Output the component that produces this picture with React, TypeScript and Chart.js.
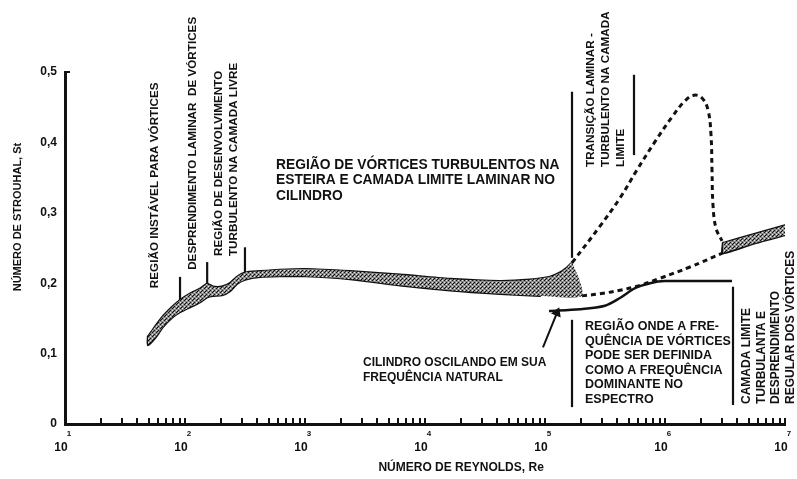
import React, { useEffect, useRef } from 'react';
import { Chart, registerables } from 'chart.js';

Chart.register(...registerables);

const FONT = "'Liberation Sans', Arial, Helvetica, sans-serif";

// ---------------- data ----------------
// main measured band (laminar vortex shedding ... subcritical)
const bandUpperRe = [49.2, 56.2, 65.6, 77.9, 90.9, 110, 133, 153, 171, 203, 237, 271, 316, 422, 619, 1000, 2371, 6190, 16160, 42170, 75000, 110100, 133400, 152500, 167900];
const bandUpperSt = [0.124, 0.138, 0.153, 0.166, 0.176, 0.185, 0.192, 0.199, 0.195, 0.195, 0.2, 0.209, 0.215, 0.217, 0.219, 0.22, 0.217, 0.212, 0.206, 0.203, 0.205, 0.209, 0.215, 0.222, 0.229];
const bandLowerRe = [49.2, 56.2, 65.6, 77.9, 90.9, 110, 133, 153, 171, 203, 237, 271, 316, 422, 619, 1000, 2371, 6190, 16160, 42170, 90850, 203400];
const bandLowerSt = [0.112, 0.122, 0.138, 0.151, 0.159, 0.166, 0.173, 0.18, 0.182, 0.183, 0.189, 0.199, 0.205, 0.209, 0.21, 0.21, 0.206, 0.197, 0.19, 0.185, 0.182, 0.182];

// supercritical band (turbulent boundary layer)
const turbUpperRe = [3.045e6, 5.62e6, 1.0e7];
const turbUpperSt = [0.257, 0.27, 0.282];
const turbLowerRe = [3.045e6, 5.62e6, 1.0e7];
const turbLowerSt = [0.243, 0.257, 0.2685];

// dashed transition curves
const upperDashRe = [167900, 287300, 421700, 584700, 825400, 1144000, 1468000, 1744000, 2034000, 2282000, 2417000, 2464000, 2512000, 2661000, 2985000];
const upperDashSt = [0.229, 0.281, 0.321, 0.361, 0.401, 0.436, 0.459, 0.467, 0.463, 0.446, 0.411, 0.361, 0.311, 0.278, 0.26];
const lowerDashRe = [203400, 287300, 421700, 619000, 908500, 1616000, 3045000];
const lowerDashSt = [0.182, 0.185, 0.19, 0.197, 0.207, 0.223, 0.243];

// oscillating cylinder (natural frequency)
const oscRe = [108000, 195700, 316200, 421700, 562300, 749900, 1000000, 3616000];
const oscSt = [0.1605, 0.163, 0.168, 0.179, 0.193, 0.2, 0.203, 0.203];

// arrow from the note to the oscillating-cylinder line
const arrowRe = [96200, 125900];
const arrowSt = [0.109, 0.158];

// vertical region markers
const markerRe = [90.9, 153, 316, 167900, 551600, 167900, 3687000];
const markerStFrom = [0.173, 0.195, 0.216, 0.236, 0.382, 0.024, 0.027];
const markerStTo = [0.209, 0.23, 0.251, 0.472, 0.496, 0.148, 0.195];

// axes
const xDecades = [10, 100, 1000, 1e4, 1e5, 1e6, 1e7];
const xExponents = ['1', '2', '3', '4', '5', '6', '7'];
const yTicks = [0, 0.1, 0.2, 0.3, 0.4, 0.5];
const yTickLabels = ['0', '0,1', '0,2', '0,3', '0,4', '0,5'];
const xTitle = 'NÚMERO DE REYNOLDS, Re';
const yTitle = 'NÚMERO DE STROUHAL, St';

// text notes (anchored in data coordinates)
const notes = [
  { lines: ['REGIÃO INSTÁVEL PARA VÓRTICES'], re: 56.2, st: 0.193, vertical: true, size: 11.7, weight: 'bold', lh: 15 },
  { lines: ['DESPRENDIMENTO LAMINAR  DE VÓRTICES'], re: 116.6, st: 0.219, vertical: true, size: 11.7, weight: 'bold', lh: 15 },
  { lines: ['REGIÃO DE DESENVOLVIMENTO', 'TURBULENTO NA CAMADA LIVRE'], re: 192, st: 0.2386, vertical: true, size: 11.7, weight: 'bold', lh: 15 },
  { lines: ['REGIÃO DE VÓRTICES TURBULENTOS NA', 'ESTEIRA E CAMADA LIMITE LAMINAR NO', 'CILINDRO'], re: 573, st: 0.3679, vertical: false, size: 13.8, weight: 'bold', lh: 15.5 },
  { lines: ['TRANSIÇÃO LAMINAR -', 'TURBULENTO NA CAMADA', 'LIMITE'], re: 241700, st: 0.3651, vertical: true, size: 11.7, weight: 'bold', lh: 15 },
  { lines: ['REGIÃO ONDE A FRE-', 'QUÊNCIA DE VÓRTICES', 'PODE SER DEFINIDA', 'COMO A FREQUÊNCIA', 'DOMINANTE NO', 'ESPECTRO'], re: 215400, st: 0.1378, vertical: false, size: 12.5, weight: 'bold', lh: 14.5 },
  { lines: ['CILINDRO OSCILANDO EM SUA', 'FREQUÊNCIA NATURAL'], re: 3044, st: 0.0866, vertical: false, size: 12, weight: 'bold', lh: 14.5 },
  { lines: ['CAMADA LIMITE', 'TURBULANTA E', 'DESPRENDIMENTO', 'REGULAR DOS VÓRTICES'], re: 4.824e6, st: 0.0284, vertical: true, size: 12, weight: 'bold', lh: 14.5 },
];

const pts = (xs: number[], ys: number[]) => xs.map((x, i) => ({ x, y: ys[i] }));

function bandPolygon(ur: number[], us: number[], lr: number[], ls: number[]) {
  const up = pts(ur, us);
  const lo = pts(lr, ls).reverse();
  return [...up, ...lo];
}

function makePattern(): CanvasPattern | string {
  const c = document.createElement('canvas');
  c.width = 4;
  c.height = 4;
  const g = c.getContext('2d');
  if (!g) return '#777';
  g.fillStyle = '#8a8a8a';
  g.fillRect(0, 0, 4, 4);
  g.fillStyle = '#111';
  g.fillRect(0, 0, 1, 1);
  g.fillRect(2, 2, 1, 1);
  g.fillRect(1, 3, 1, 1);
  g.fillStyle = '#e6e6e6';
  g.fillRect(2, 0, 1, 1);
  g.fillRect(0, 2, 1, 1);
  return g.createPattern(c, 'repeat') || '#777';
}

const notesPlugin = {
  id: 'notesPlugin',
  afterDraw(chart: any) {
    const { ctx, scales } = chart;
    const xs = scales.x;
    const ys = scales.y;
    ctx.save();
    ctx.fillStyle = '#111';
    ctx.textBaseline = 'middle';
    ctx.textAlign = 'left';
    for (const n of notes) {
      const px = xs.getPixelForValue(n.re);
      const py = ys.getPixelForValue(n.st);
      ctx.font = `${n.weight} ${n.size}px ${FONT}`;
      ctx.save();
      ctx.translate(px, py);
      if (n.vertical) ctx.rotate(-Math.PI / 2);
      n.lines.forEach((line, i) => ctx.fillText(line, 0, i * n.lh));
      ctx.restore();
    }
    // exponents of decade labels
    ctx.font = `bold 8px ${FONT}`;
    ctx.textAlign = 'center';
    xDecades.forEach((d, i) => {
      const px = xs.getPixelForValue(d);
      ctx.fillText(xExponents[i], px + 4, ys.bottom + 10);
    });
    // small inward tick at the top of the y axis
    ctx.strokeStyle = '#111';
    ctx.lineWidth = 2;
    ctx.beginPath();
    ctx.moveTo(xs.left, ys.getPixelForValue(yTicks[yTicks.length - 1]));
    ctx.lineTo(xs.left + 5, ys.getPixelForValue(yTicks[yTicks.length - 1]));
    ctx.stroke();
    // axis titles
    ctx.font = `bold 12px ${FONT}`;
    ctx.textAlign = 'center';
    ctx.fillText(xTitle, xs.getPixelForValue(20000), 468);
    ctx.font = `bold 11px ${FONT}`;
    ctx.save();
    ctx.translate(18, ys.getPixelForValue(0.294));
    ctx.rotate(-Math.PI / 2);
    ctx.fillText(yTitle, 0, 0);
    ctx.restore();
    ctx.restore();
  },
};

const edge = (data: { x: number; y: number }[], width: number) => ({
  type: 'line' as const,
  data,
  borderColor: '#111',
  borderWidth: width,
  fill: false,
  tension: 0.25,
  pointRadius: 0,
  borderCapStyle: 'round' as const,
});

export default function App() {
  const ref = useRef<HTMLCanvasElement | null>(null);

  useEffect(() => {
    document.body.style.margin = '0';
    const canvas = ref.current;
    if (!canvas) return;
    const pattern = makePattern();
    const mainUpper = pts(bandUpperRe, bandUpperSt);
    const mainLower = pts(bandLowerRe, bandLowerSt);
    const turbUpper = pts(turbUpperRe, turbUpperSt);
    const turbLower = pts(turbLowerRe, turbLowerSt);

    const markerSets = markerRe.map((re, i) => ({
      type: 'line' as const,
      data: [{ x: re, y: markerStFrom[i] }, { x: re, y: markerStTo[i] }],
      borderColor: '#111',
      borderWidth: 2.2,
      pointRadius: 0,
      fill: false,
    }));

    const chart = new Chart(canvas, {
      type: 'line',
      data: {
        datasets: [
          {
            data: bandPolygon(bandUpperRe, bandUpperSt, bandLowerRe, bandLowerSt),
            borderWidth: 0,
            borderColor: 'rgba(0,0,0,0)',
            backgroundColor: pattern as any,
            fill: 'shape',
            tension: 0.25,
            pointRadius: 0,
          },
          edge(mainUpper, 2.4),
          edge([mainUpper[0], ...mainLower.slice(0, mainLower.length - 1)], 2.4),
          {
            data: bandPolygon(turbUpperRe, turbUpperSt, turbLowerRe, turbLowerSt),
            borderWidth: 0,
            borderColor: 'rgba(0,0,0,0)',
            backgroundColor: pattern as any,
            fill: 'shape',
            tension: 0,
            pointRadius: 0,
          },
          edge(turbUpper, 2.4),
          edge([turbUpper[0], ...turbLower], 2.4),
          {
            data: pts(upperDashRe, upperDashSt),
            borderColor: '#111',
            borderWidth: 3,
            borderDash: [5, 4],
            fill: false,
            tension: 0.4,
            pointRadius: 0,
          },
          {
            data: pts(lowerDashRe, lowerDashSt),
            borderColor: '#111',
            borderWidth: 3,
            borderDash: [5, 4],
            fill: false,
            tension: 0.4,
            pointRadius: 0,
          },
          {
            data: pts(oscRe, oscSt),
            borderColor: '#111',
            borderWidth: 2.5,
            fill: false,
            tension: 0.3,
            pointRadius: 0,
          },
          {
            data: pts(arrowRe, arrowSt),
            borderColor: '#111',
            backgroundColor: '#111',
            borderWidth: 2,
            fill: false,
            pointRadius: [0, 4],
            pointStyle: 'triangle',
            pointRotation: 22,
          },
          ...markerSets,
        ] as any,
      },
      options: {
        responsive: false,
        devicePixelRatio: 1,
        animation: false,
        events: [],
        layout: { padding: { left: 0, right: 12, top: 72, bottom: 0 } },
        plugins: { legend: { display: false }, tooltip: { enabled: false } },
        elements: { point: { radius: 0 } },
        scales: {
          x: {
            type: 'logarithmic',
            position: 'bottom',
            min: 10,
            max: 1e7,
            border: { display: true, color: '#111', width: 3 },
            grid: { display: true, drawOnChartArea: false, drawTicks: true, tickLength: -6, color: '#111', lineWidth: 2 },
            afterBuildTicks: (scale: any) => {
              const t: { value: number }[] = [];
              for (let i = 0; i < xDecades.length - 1; i++) {
                for (let m = 1; m <= 9; m++) t.push({ value: xDecades[i] * m });
              }
              t.push({ value: xDecades[xDecades.length - 1] });
              scale.ticks = t;
            },
            afterFit: (scale: any) => {
              scale.height = 55;
              scale.paddingLeft = 0;
              scale.paddingRight = 0;
            },
            ticks: {
              autoSkip: false,
              maxRotation: 0,
              padding: 22,
              labelOffset: -4,
              color: '#111',
              font: { family: FONT, size: 12, weight: 'bold' },
              callback: (v: any) => (xDecades.includes(Number(v)) ? '10' : ''),
            },
          },
          y: {
            type: 'linear',
            min: 0,
            max: 0.5,
            border: { display: true, color: '#111', width: 3 },
            grid: { display: false, drawTicks: false },
            afterBuildTicks: (scale: any) => {
              scale.ticks = yTicks.map((v) => ({ value: v }));
            },
            afterFit: (scale: any) => {
              scale.width = 65;
              scale.paddingTop = 0;
              scale.paddingBottom = 0;
            },
            ticks: {
              padding: 8,
              color: '#111',
              font: { family: FONT, size: 12, weight: 'bold' },
              callback: (_v: any, i: number) => yTickLabels[i],
            },
          },
        },
      } as any,
      plugins: [notesPlugin],
    });
    return () => chart.destroy();
  }, []);

  return (
    <div style={{ width: 797, height: 479, background: '#fff' }}>
      <canvas ref={ref} width={797} height={479} style={{ display: 'block' }} />
    </div>
  );
}
